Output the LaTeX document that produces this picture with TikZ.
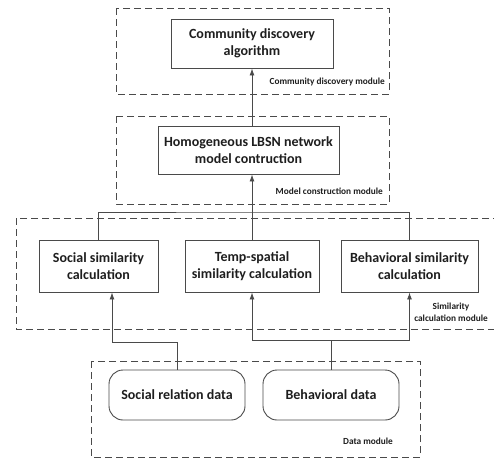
\documentclass[tikz,border=0pt]{standalone}
\usepackage{fontspec}
\setmainfont{Carlito}
\usetikzlibrary{arrows.meta}
\definecolor{ln}{HTML}{4a4a4a}
\definecolor{tx}{HTML}{1e1e1e}
\tikzset{
  box/.style={draw=ln, line width=0.9pt, rectangle, align=center, inner sep=0pt,
    font=\fontsize{14}{17}\selectfont\bfseries, text=tx},
  rbox/.style={box, rounded corners=14pt},
  module/.style={draw=ln, line width=0.9pt, dash pattern=on 7pt off 4pt},
  modlabel/.style={font=\fontsize{9.3}{12}\selectfont\bfseries, text=tx, inner sep=0pt, align=center},
  conn/.style={draw=ln, line width=0.9pt},
  arr/.style={conn, -{Latex[length=7pt,width=5pt]}}
}
\begin{document}
\begin{tikzpicture}[x=1pt,y=-1pt]
\useasboundingbox (0,0) rectangle (494,458);
\clip (0,0) rectangle (494,458);
\fill[white] (0,0) rectangle (494,458);
% module frames
\draw[module] (116,8) rectangle (389,94);
\draw[module] (116,116) rectangle (389,204);
\draw[module] (16,218) rectangle (510,329);
\draw[module] (91,361) rectangle (420,457);
% nodes
\node[box, minimum width=162pt, minimum height=49pt] (comm) at (252,43.5) {Community discovery\\algorithm};
\node[box, minimum width=181pt, minimum height=48pt] (homo) at (248.5,150) {Homogeneous LBSN network\\model contruction};
\node[box, minimum width=119pt, minimum height=52pt] (soc) at (98.5,266) {Social similarity\\calculation};
\node[box, minimum width=134pt, minimum height=52pt] (temp) at (252,266) {Temp-spatial\\similarity calculation};
\node[box, minimum width=137pt, minimum height=52pt] (beh) at (409.5,266) {Behavioral similarity\\calculation};
\node[rbox, minimum width=136pt, minimum height=50pt] (sdata) at (177,395) {Social relation data};
\node[rbox, minimum width=136pt, minimum height=50pt] (bdata) at (331,395) {Behavioral data};
% module labels
\node[modlabel, anchor=east] (l1) at (385,82) {Community discovery module};
\node[modlabel, anchor=east] (l2) at (383,191) {Model construction module};
\node[modlabel] (l3) at (451,312) {Similarity\\calculation module};
\node[modlabel] (l4) at (368,441) {Data module};
% connectors
\draw[arr] (comm.south |- homo.north) -- (comm.south);
\draw[arr] (temp.north) -- (temp.north |- homo.south);
\coordinate (bus) at (252,212);
\draw[conn] (soc.north) |- (bus) -| (beh.north);
\coordinate (j1) at (112,342);
\draw[arr] (sdata.north) |- (j1) -- (j1 |- soc.south);
\coordinate (j2) at (331,340);
\draw[arr] (bdata.north) -- (bdata.north |- j2) -| (temp.south);
\draw[arr] (bdata.north |- j2) -| (beh.south);
\end{tikzpicture}
\end{document}
